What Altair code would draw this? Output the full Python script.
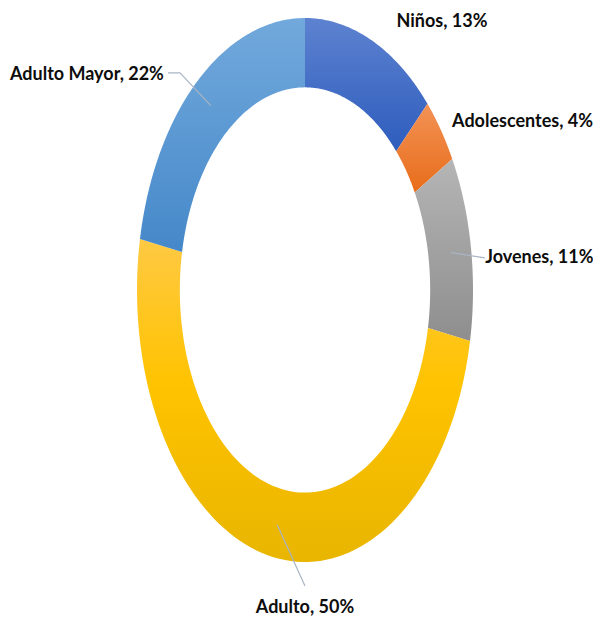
import math
import altair as alt
import pandas as pd

# ---------------- data ----------------
CATEGORIES = ["Niños", "Adolescentes", "Jovenes", "Adulto", "Adulto Mayor"]
PERCENTS = [13, 4, 11, 50, 22]
LABELS = ["Niños, 13%", "Adolescentes, 4%", "Jovenes, 11%", "Adulto, 50%", "Adulto Mayor, 22%"]

# ---------------- layout / style ----------------
INNER = 0.745          # inner radius as share of outer radius
STEPS = 90             # samples per edge of a ring segment
# label centres in the unit coordinates of the ring (outer radius = 1)
LABEL_X = [0.815, 1.295, 1.395, 0.0, -1.298]
LABEL_Y = [0.985, 0.618, 0.118, -1.169, 0.790]
# leader lines: ring anchor radius and the path to the label (unit coordinates)
LEADER_R = 0.88
LEADERS = {
    "Jovenes": [(1.07, 0.118)],
    "Adulto": [(0.0, -1.088)],
    "Adulto Mayor": [(-0.744, 0.798), (-0.815, 0.798)],
}
GRADIENTS = {
    "Niños": [("#5D82D0", 0), ("#2E5DBD", 1)],
    "Adolescentes": [("#F39256", 0), ("#E86D1A", 1)],
    "Jovenes": [("#B5B5B5", 0), ("#8E8E8E", 1)],
    "Adulto": [("#FFC943", 0), ("#FFC300", 0.45), ("#E8B500", 1)],
    "Adulto Mayor": [("#72A9DC", 0), ("#4588C9", 1)],
}
FONT = "Lato"

base_df = pd.DataFrame({
    "cat": CATEGORIES,
    "value": PERCENTS,
    "k": list(range(len(CATEGORIES))),
})

x_scale = alt.Scale(domain=[-1, 1], nice=False, zero=False)
y_scale = alt.Scale(domain=[-1, 1], nice=False, zero=False)

ring_base = (
    alt.Chart(base_df)
    .transform_joinaggregate(total="sum(value)")
    .transform_window(cum="sum(value)", sort=[alt.SortField("k")], frame=[None, 0])
    .transform_calculate(
        s="(datum.cum - datum.value) / datum.total",
        e="datum.cum / datum.total",
        pts=f"sequence(0, {2 * STEPS + 2})",
    )
    .transform_flatten(["pts"], as_=["i"])
    .transform_calculate(
        t=f"datum.i <= {STEPS} ? datum.i / {STEPS} : ({2 * STEPS + 1} - datum.i) / {STEPS}",
        r=f"datum.i <= {STEPS} ? 1 : {INNER}",
    )
    .transform_calculate(a="2 * PI * (datum.s + datum.t * (datum.e - datum.s))")
    .transform_calculate(px="datum.r * sin(datum.a)", py="datum.r * cos(datum.a)")
)

layers = []
for cat in CATEGORIES:
    grad = alt.Gradient(
        gradient="linear",
        stops=[alt.GradientStop(color=c, offset=o) for c, o in GRADIENTS[cat]],
        x1=0, x2=0, y1=0, y2=1,
    )
    layers.append(
        ring_base.transform_filter(alt.datum.cat == cat)
        .mark_line(filled=True, fill=grad, strokeWidth=0, strokeOpacity=0)
        .encode(
            x=alt.X("px:Q", scale=x_scale, axis=None),
            y=alt.Y("py:Q", scale=y_scale, axis=None),
            order=alt.Order("i:Q"),
        )
    )

# leader lines
total = sum(PERCENTS)
rows = []
cum = 0
for cat, p in zip(CATEGORIES, PERCENTS):
    mid = 2 * math.pi * (cum + p / 2) / total
    cum += p
    if cat in LEADERS:
        pts = [(LEADER_R * math.sin(mid), LEADER_R * math.cos(mid))] + LEADERS[cat]
        for j, (lx, ly) in enumerate(pts):
            rows.append({"cat": cat, "j": j, "lx": lx, "ly": ly})
leader_df = pd.DataFrame(rows)

leaders = (
    alt.Chart(leader_df)
    .mark_line(color="#A9B5C5", strokeWidth=1.2)
    .encode(
        x=alt.X("lx:Q", scale=x_scale, axis=None),
        y=alt.Y("ly:Q", scale=y_scale, axis=None),
        detail="cat:N",
        order=alt.Order("j:Q"),
    )
)

label_df = pd.DataFrame({"label": LABELS, "lx": LABEL_X, "ly": LABEL_Y})
labels = (
    alt.Chart(label_df)
    .mark_text(font=FONT, fontWeight="bold", fontSize=18, color="#0D0D0D",
               align="center", baseline="middle")
    .encode(
        x=alt.X("lx:Q", scale=x_scale, axis=None),
        y=alt.Y("ly:Q", scale=y_scale, axis=None),
        text="label:N",
    )
)

chart = (
    alt.layer(*layers, leaders, labels)
    .properties(
        width=336,
        height=544,
        autosize=alt.AutoSizeParams(type="none"),
        padding={"left": 129, "top": 10, "right": 120, "bottom": 56},
    )
    .configure_view(stroke=None)
)

chart.save("out.html", embed_options={"renderer": "svg", "actions": False})
